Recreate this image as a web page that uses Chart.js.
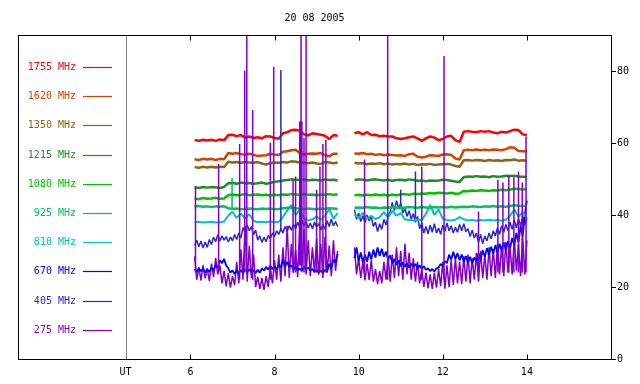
<!DOCTYPE html>
<html>
<head>
<meta charset="utf-8">
<title>20 08 2005</title>
<script src="https://cdn.jsdelivr.net/npm/chart.js@4.4.0/dist/chart.umd.min.js"></script>
<style>
  html, body { margin: 0; padding: 0; background: #fff; }
  #chart { display: block; }
</style>
</head>
<body>
<canvas id="chart" width="640" height="384"></canvas>
<script>
// time axis (UT hours); the recording has a gap between the two blocks
const titleText = '20 08 2005';
const utHour = 4.457;
const gapHour = 9.7;
const xMin = 1.9, xMax = 16;
const xTicks = [utHour, 6, 8, 10, 12, 14];
const yTicks = [0, 20, 40, 60, 80];

const hoursA = [6.1, 6.2, 6.3, 6.4, 6.5, 6.6, 6.7, 6.8, 6.9, 7.0, 7.1, 7.2, 7.3, 7.4, 7.5, 7.6, 7.7, 7.8, 7.9, 8.0,
  8.1, 8.2, 8.3, 8.4, 8.5, 8.6, 8.7, 8.8, 8.9, 9.0, 9.1, 9.2, 9.3, 9.4, 9.5];
const hoursB = [9.9, 10.0, 10.1, 10.2, 10.3, 10.4, 10.5, 10.6, 10.7, 10.8, 10.9, 11.0, 11.1, 11.2, 11.3, 11.4, 11.5,
  11.6, 11.7, 11.8, 11.9, 12.0, 12.1, 12.2, 12.3, 12.4, 12.5, 12.6, 12.7, 12.8, 12.9, 13.0, 13.1, 13.2, 13.3, 13.4,
  13.5, 13.6, 13.7, 13.8, 13.9, 14.0];
const fineA = [6.10, 6.15, 6.20, 6.25, 6.30, 6.35, 6.40, 6.45, 6.50, 6.55, 6.60, 6.65, 6.70, 6.75, 6.80, 6.85, 6.90,
  6.95, 7.00, 7.05, 7.10, 7.15, 7.20, 7.25, 7.30, 7.35, 7.40, 7.45, 7.50, 7.55, 7.60, 7.65, 7.70, 7.75, 7.80, 7.85,
  7.90, 7.95, 8.00, 8.05, 8.10, 8.15, 8.20, 8.25, 8.30, 8.35, 8.40, 8.45, 8.50, 8.55, 8.60, 8.65, 8.70, 8.75, 8.80,
  8.85, 8.90, 8.95, 9.00, 9.05, 9.10, 9.15, 9.20, 9.25, 9.30, 9.35, 9.40, 9.45, 9.50];
const fineB = [9.90, 9.95, 10.00, 10.05, 10.10, 10.15, 10.20, 10.25, 10.30, 10.35, 10.40, 10.45, 10.50, 10.55, 10.60,
  10.65, 10.70, 10.75, 10.80, 10.85, 10.90, 10.95, 11.00, 11.05, 11.10, 11.15, 11.20, 11.25, 11.30, 11.35, 11.40,
  11.45, 11.50, 11.55, 11.60, 11.65, 11.70, 11.75, 11.80, 11.85, 11.90, 11.95, 12.00, 12.05, 12.10, 12.15, 12.20,
  12.25, 12.30, 12.35, 12.40, 12.45, 12.50, 12.55, 12.60, 12.65, 12.70, 12.75, 12.80, 12.85, 12.90, 12.95, 13.00,
  13.05, 13.10, 13.15, 13.20, 13.25, 13.30, 13.35, 13.40, 13.45, 13.50, 13.55, 13.60, 13.65, 13.70, 13.75, 13.80,
  13.85, 13.90, 13.95, 14.00];

// 1755 MHz
const f1755A = [60.8, 60.6, 60.9, 60.7, 60.9, 60.6, 61.0, 60.8, 62.2, 62.3, 61.9, 62.2, 61.5, 61.8, 61.4, 61.6, 61.3,
  61.9, 61.8, 61.4, 61.2, 62.7, 63.0, 63.6, 63.7, 63.4, 62.4, 62.1, 62.7, 62.5, 62.3, 62.0, 61.1, 62.2, 62.0];
const f1755B = [62.7, 63.0, 62.4, 63.0, 62.2, 62.3, 61.9, 62.0, 61.8, 61.8, 61.3, 61.1, 61.3, 61.6, 61.8, 61.3, 60.6,
  61.3, 61.8, 61.5, 60.8, 61.1, 61.8, 62.0, 60.8, 60.3, 63.1, 63.3, 63.1, 63.0, 63.3, 63.1, 63.3, 62.9, 62.7, 63.1,
  62.9, 63.3, 63.7, 63.6, 62.4, 62.2];
// 1620 MHz
const f1620A = [55.5, 55.3, 55.6, 55.4, 55.6, 55.3, 55.6, 55.5, 57.2, 57.0, 57.2, 56.9, 56.8, 57.0, 56.7, 56.4, 56.5,
  56.6, 57.0, 56.8, 56.7, 57.6, 57.7, 58.0, 58.1, 57.2, 56.8, 57.0, 57.1, 57.0, 57.2, 56.6, 56.3, 57.0, 57.0];
const f1620B = [57.1, 57.0, 57.2, 56.9, 57.0, 56.7, 56.9, 56.6, 56.8, 56.7, 56.5, 56.6, 56.4, 56.9, 57.0, 56.2, 56.0,
  56.2, 56.6, 56.5, 56.4, 56.8, 56.9, 56.7, 55.7, 55.4, 58.0, 58.1, 58.0, 58.2, 58.0, 58.1, 58.0, 58.2, 58.1, 58.0,
  58.3, 58.8, 58.7, 57.8, 57.7, 57.7];
// 1350 MHz
const f1350A = [53.3, 53.1, 53.4, 53.2, 53.4, 53.2, 53.4, 53.3, 54.8, 54.6, 54.7, 54.5, 54.7, 54.6, 54.5, 54.7, 54.3,
  54.0, 54.4, 54.6, 54.5, 54.7, 54.6, 54.9, 54.8, 54.6, 54.5, 54.4, 54.6, 54.3, 54.2, 54.7, 54.6, 54.4, 54.6];
const f1350B = [54.5, 54.3, 54.4, 54.1, 54.3, 54.2, 54.4, 54.1, 54.3, 54.0, 54.2, 54.1, 54.3, 54.0, 54.2, 53.9, 54.1,
  54.0, 54.2, 53.9, 54.0, 54.1, 54.2, 54.0, 53.6, 53.4, 55.2, 55.3, 55.1, 55.3, 55.2, 55.0, 55.3, 55.1, 55.2, 55.0,
  55.3, 55.2, 55.4, 55.1, 55.2, 55.0];
// 1215 MHz
const f1215A = [47.7, 47.5, 47.8, 47.6, 47.8, 47.7, 47.5, 47.8, 48.8, 48.9, 48.7, 49.0, 48.8, 48.9, 48.7, 48.8, 49.0,
  48.7, 48.9, 49.2, 49.4, 49.6, 49.7, 49.9, 49.8, 49.7, 49.9, 49.6, 49.8, 49.7, 49.6, 49.9, 49.7, 49.8, 49.6];
const f1215B = [49.7, 49.9, 49.8, 49.6, 49.8, 49.9, 49.7, 49.6, 49.8, 49.5, 49.7, 49.8, 49.6, 49.9, 49.7, 49.5, 49.6,
  49.4, 49.6, 49.5, 49.6, 49.8, 49.7, 49.5, 49.3, 49.2, 50.5, 50.7, 50.6, 50.8, 50.6, 50.7, 50.5, 50.8, 50.6, 50.7,
  50.9, 50.8, 50.9, 50.7, 50.6, 50.6];
// 1080 MHz
const f1080A = [44.6, 44.4, 44.7, 44.5, 44.6, 44.8, 44.5, 44.6, 45.5, 45.7, 45.5, 45.6, 45.8, 45.5, 45.6, 45.7, 45.5,
  45.6, 45.4, 45.6, 45.5, 45.7, 45.6, 45.8, 45.7, 45.6, 45.8, 45.6, 45.7, 45.5, 45.7, 45.6, 45.8, 45.6, 45.7];
const f1080B = [45.5, 45.6, 45.4, 45.6, 45.5, 45.7, 45.5, 45.6, 45.4, 45.6, 45.5, 45.7, 45.8, 45.6, 45.9, 45.8, 46.0,
  45.9, 46.1, 46.0, 46.2, 46.1, 46.0, 46.2, 45.9, 46.0, 46.7, 46.6, 46.8, 46.7, 46.9, 46.8, 46.7, 46.9, 46.8, 47.0,
  46.9, 47.1, 47.3, 47.2, 47.1, 47.2];
// 925 MHz
const f925A = [42.4, 42.5, 42.3, 42.4, 42.2, 42.4, 42.3, 42.4, 41.9, 41.7, 41.8, 41.6, 41.7, 41.8, 41.7, 41.6, 41.8,
  41.7, 41.8, 41.6, 41.7, 41.9, 42.0, 42.1, 41.9, 41.8, 41.7, 41.8, 41.7, 41.6, 41.8, 41.7, 41.9, 41.8, 41.7];
const f925B = [42.0, 42.1, 42.0, 42.2, 42.0, 42.1, 41.9, 42.1, 42.0, 42.2, 42.0, 42.1, 42.0, 42.2, 42.1, 42.0, 42.2,
  42.1, 42.0, 42.2, 42.1, 42.2, 42.1, 42.3, 42.1, 42.2, 42.3, 42.2, 42.4, 42.3, 42.2, 42.4, 42.3, 42.5, 42.3, 42.4,
  42.3, 42.5, 42.7, 42.6, 42.5, 42.6];
// 810 MHz
const f810A = [38.0, 38.1, 37.9, 38.0, 38.1, 37.9, 38.0, 38.2, 39.8, 40.9, 39.2, 40.4, 39.0, 40.2, 38.4, 38.0, 38.1,
  38.0, 38.2, 38.0, 38.1, 39.5, 41.2, 42.8, 40.0, 41.5, 39.0, 38.5, 38.8, 39.6, 38.7, 39.8, 41.6, 39.0, 40.5];
const f810B = [40.0, 39.2, 40.6, 39.0, 39.8, 38.9, 39.4, 40.8, 39.3, 41.2, 39.8, 40.5, 38.8, 38.6, 38.5, 38.7, 38.6,
  40.3, 42.8, 40.0, 41.5, 39.0, 38.6, 38.5, 38.7, 39.4, 38.8, 38.5, 38.6, 38.4, 38.6, 38.5, 38.7, 38.5, 38.6, 38.4,
  38.7, 39.8, 41.5, 39.5, 40.8, 39.0];
// 670 MHz (fine sampling)
const f670A = [25.0, 24.2, 25.2, 24.4, 25.0, 24.0, 24.9, 24.2, 25.3, 24.6, 26.0, 25.4, 27.4, 26.6, 27.8, 26.0, 25.2,
  24.0, 24.6, 23.6, 24.5, 23.8, 24.7, 24.0, 25.0, 24.2, 24.9, 24.1, 24.6, 23.9, 24.8, 24.0, 25.2, 24.6, 25.6, 24.8,
  26.0, 25.0, 25.8, 24.9, 26.2, 25.4, 27.6, 25.8, 27.0, 25.6, 26.0, 24.8, 25.6, 24.6, 25.2, 24.4, 25.6, 24.8, 25.4,
  24.6, 25.0, 24.2, 24.8, 24.0, 24.6, 23.9, 24.8, 24.2, 26.4, 25.2, 27.6, 26.8, 29.2];
const f670B = [28.0, 31.0, 27.2, 29.6, 26.8, 29.0, 27.0, 29.8, 27.6, 30.4, 28.2, 31.0, 28.6, 30.6, 28.4, 29.8, 27.6,
  28.8, 26.6, 27.8, 26.2, 27.4, 25.8, 26.8, 25.6, 26.6, 25.4, 26.5, 25.6, 26.4, 25.2, 26.0, 25.0, 25.8, 24.8, 25.2,
  24.4, 25.0, 24.3, 25.2, 25.4, 26.4, 25.8, 27.2, 26.6, 29.0, 27.6, 29.8, 27.8, 29.4, 27.4, 29.0, 27.0, 28.6, 26.8,
  28.4, 26.6, 28.2, 27.0, 29.4, 27.6, 30.2, 28.4, 30.8, 29.0, 31.2, 29.4, 31.6, 29.6, 32.0, 30.0, 32.4, 30.2, 32.8,
  30.8, 33.6, 31.6, 35.0, 32.4, 37.0, 34.0, 40.0, 44.0];
// 405 MHz (fine sampling)
const f405A = [31.5, 33.0, 31.2, 32.8, 30.8, 32.5, 31.0, 33.2, 31.8, 33.8, 32.6, 34.5, 32.8, 34.2, 33.0, 34.0, 32.5,
  33.9, 32.8, 34.6, 33.2, 35.0, 33.6, 36.5, 35.2, 37.2, 35.6, 36.8, 34.5, 35.8, 33.0, 34.2, 32.4, 33.8, 32.6, 34.3,
  33.4, 35.0, 34.0, 35.6, 34.6, 36.2, 35.0, 36.8, 35.5, 37.0, 35.8, 37.4, 36.2, 38.0, 36.5, 38.6, 37.0, 38.2, 36.4,
  37.8, 36.2, 38.0, 36.6, 37.6, 35.8, 37.4, 36.0, 38.4, 36.8, 38.8, 37.0, 38.2, 36.8];
const f405B = [41.5, 38.8, 40.5, 38.2, 39.8, 37.8, 40.0, 38.4, 39.6, 36.8, 38.0, 35.4, 37.6, 36.0, 38.8, 37.2, 39.5,
  41.0, 43.5, 41.2, 44.0, 41.8, 43.2, 40.5, 42.0, 39.6, 41.2, 38.8, 40.4, 38.0, 39.6, 36.2, 37.8, 35.0, 36.8, 34.8,
  37.2, 35.2, 37.6, 35.0, 36.4, 34.6, 37.2, 35.4, 37.8, 35.6, 37.0, 35.0, 36.6, 35.2, 37.4, 35.6, 37.6, 35.4, 36.2,
  34.0, 35.8, 33.6, 35.0, 32.4, 34.6, 32.0, 34.2, 32.8, 35.0, 33.4, 35.6, 34.2, 36.4, 34.6, 37.0, 35.2, 37.4, 35.6,
  38.0, 36.0, 38.6, 36.4, 39.0, 37.0, 39.6, 37.4, 39.0];
// 275 MHz (fine sampling)
const f275A = [28.5, 22.0, 25.5, 21.8, 26.0, 22.4, 25.2, 21.6, 26.5, 22.8, 28.0, 23.5, 26.0, 21.0, 24.5, 20.2, 23.8,
  19.8, 23.0, 20.5, 27.0, 21.0, 30.5, 22.0, 37.0, 21.5, 31.5, 22.5, 29.0, 20.0, 22.8, 19.5, 22.5, 19.2, 23.0, 20.0,
  25.5, 21.0, 27.5, 22.0, 29.0, 21.5, 31.0, 23.0, 37.0, 22.5, 32.0, 24.0, 30.5, 22.8, 38.0, 25.0, 36.0, 23.5, 33.0,
  23.0, 31.0, 24.0, 33.5, 23.5, 32.0, 22.5, 34.0, 24.0, 31.5, 23.0, 33.0, 24.5, 30.0];
const f275B = [31.0, 23.5, 28.0, 22.5, 27.0, 21.8, 26.5, 22.0, 27.5, 21.5, 25.0, 20.8, 24.5, 21.0, 27.0, 22.0, 28.5,
  21.5, 29.0, 22.5, 31.0, 23.0, 30.0, 22.0, 32.0, 23.5, 29.5, 22.0, 28.0, 21.5, 27.0, 21.0, 25.0, 20.0, 24.0, 19.6,
  23.5, 19.5, 24.0, 19.8, 25.0, 20.2, 27.0, 19.5, 26.0, 20.0, 27.5, 20.5, 28.0, 21.0, 27.0, 20.8, 28.5, 21.5, 29.0,
  21.0, 28.0, 22.0, 29.5, 21.5, 30.0, 22.5, 29.0, 22.0, 31.0, 23.0, 30.5, 22.5, 32.0, 23.5, 31.5, 23.0, 32.5, 24.0,
  31.0, 23.5, 33.5, 24.5, 32.0, 23.0, 34.0, 23.5, 33.0];

// short bursts (vertical spikes)
const spike275Hours = [6.12, 6.67, 7.17, 7.29, 7.34, 7.48, 7.90, 7.98, 8.44, 8.50, 8.60, 8.62, 8.63, 8.65, 8.70, 8.75,
  9.00, 9.08, 9.15, 9.22, 10.14, 10.69, 11.50, 12.03, 12.85, 13.31, 13.43, 13.57, 13.69, 13.80, 13.89, 13.98];
const spike275Tops = [48.0, 54.2, 59.7, 80.1, 90, 69.2, 60.1, 81.2, 49.7, 50.7, 66.0, 66.0, 90, 66.0, 61.4, 90,
  47.0, 53.4, 59.7, 60.8, 55.4, 90, 53.5, 84.2, 41.0, 49.8, 49.0, 51.0, 50.5, 52.0, 49.0, 61.8];
const spike275Bases = [24, 24, 22, 24, 24, 22, 22, 24, 24, 24, 26, 26, 26, 26, 24, 24,
  24, 24, 24, 24, 24, 22, 22, 22, 24, 24, 24, 24, 24, 24, 24, 24];
const spike405Hours = [8.15, 11.00, 11.35];
const spike405Tops = [80.3, 47.0, 52.1];
const spike405Bases = [35.5, 43.0, 39.0];
const spike925Hours = [6.99];
const spike925Tops = [50.3];
const spike925Bases = [41.8];

const labels = ['1755 MHz', '1620 MHz', '1350 MHz', '1215 MHz', '1080 MHz', '925 MHz', '810 MHz', '670 MHz', '405 MHz', '275 MHz'];
const colors = ['#ff0000', '#cc4400', '#8c6410', '#228b22', '#00c000', '#00c060', '#00c0c0', '#0000ff', '#2828c8', '#8000c8'];

const monoFont = { family: "'DejaVu Sans Mono', monospace", size: 10 };

function series(xa, ya, xb, yb) {
    const pts = xa.map((x, i) => ({ x: x, y: ya[i] }));
    pts.push({ x: gapHour, y: null });
    return pts.concat(xb.map((x, i) => ({ x: x, y: yb[i] })));
}

function spikes(hours, bases, tops) {
    const pts = [];
    hours.forEach((h, i) => {
        pts.push({ x: h, y: bases[i] }, { x: h, y: tops[i] }, { x: h, y: null });
    });
    return pts;
}

function line(data, color, width) {
    return { data: data, borderColor: color, borderWidth: width, borderJoinStyle: 'bevel', fill: false, spanGaps: false };
}

// first dataset is drawn on top
const datasets = [
    line(spikes(spike275Hours, spike275Bases, spike275Tops), colors[9], 1.5),
    line(spikes(spike405Hours, spike405Bases, spike405Tops), colors[8], 1.5),
    line(spikes(spike925Hours, spike925Bases, spike925Tops), colors[5], 1.5),
    line(series(hoursA, f1755A, hoursB, f1755B), colors[0], 2.5),
    line(series(hoursA, f1620A, hoursB, f1620B), colors[1], 2.5),
    line(series(hoursA, f1350A, hoursB, f1350B), colors[2], 2.5),
    line(series(hoursA, f1215A, hoursB, f1215B), colors[3], 2.5),
    line(series(hoursA, f1080A, hoursB, f1080B), colors[4], 2.5),
    line(series(hoursA, f925A, hoursB, f925B), colors[5], 2.5),
    line(series(hoursA, f810A, hoursB, f810B), colors[6], 2),
    line(series(fineA, f670A, fineB, f670B), colors[7], 1.8),
    line(series(fineA, f275A, fineB, f275B), colors[9], 1.5),
    line(series(fineA, f405A, fineB, f405B), colors[8], 1.5)
];

// frame, UT line, inward ticks, title and the frequency key
const decorPlugin = {
    id: 'decor',
    beforeDatasetsDraw(chart) {
        const c = chart.ctx, a = chart.chartArea;
        const ux = Math.round(chart.scales.x.getPixelForValue(utHour)) + 0.5;
        c.save();
        c.strokeStyle = '#808080';
        c.lineWidth = 1;
        c.beginPath();
        c.moveTo(ux, a.top);
        c.lineTo(ux, a.bottom);
        c.stroke();
        c.restore();
    },
    afterDraw(chart) {
        const c = chart.ctx, a = chart.chartArea, xs = chart.scales.x;
        const L = Math.round(a.left) + 0.5, R = Math.round(a.right) + 0.5;
        const T = Math.round(a.top) + 0.5, B = Math.round(a.bottom) + 0.5;
        c.save();
        c.strokeStyle = '#000';
        c.lineWidth = 1;
        c.strokeRect(L, T, R - L, B - T);
        c.beginPath();
        xTicks.forEach(v => {
            if (v === utHour) return;
            const px = Math.round(xs.getPixelForValue(v)) + 0.5;
            c.moveTo(px, B);
            c.lineTo(px, B - 5);
            c.moveTo(px, T);
            c.lineTo(px, T + 5);
        });
        c.stroke();

        c.font = "10px 'DejaVu Sans Mono', monospace";
        c.textBaseline = 'middle';
        c.fillStyle = '#000';
        c.textAlign = 'center';
        c.fillText(titleText, (a.left + a.right) / 2, 18);

        labels.forEach((lab, i) => {
            const y = a.top + 32 + i * 29.2;
            c.fillStyle = colors[i];
            c.textAlign = 'right';
            c.fillText(lab, a.left + 58, y + 0.5);
            c.strokeStyle = colors[i];
            c.lineWidth = 1.2;
            c.beginPath();
            c.moveTo(a.left + 65, Math.round(y) + 0.5);
            c.lineTo(a.left + 94, Math.round(y) + 0.5);
            c.stroke();
        });
        c.restore();
    }
};

new Chart(document.getElementById('chart').getContext('2d'), {
    type: 'line',
    data: { datasets: datasets },
    options: {
        responsive: false,
        animation: false,
        events: [],
        layout: { padding: { left: 18, top: 35, right: 0, bottom: 0 } },
        elements: { point: { radius: 0 }, line: { tension: 0 } },
        plugins: {
            legend: { display: false },
            title: { display: false },
            tooltip: { enabled: false }
        },
        scales: {
            x: {
                type: 'linear',
                position: 'bottom',
                min: xMin,
                max: xMax,
                afterBuildTicks: s => { s.ticks = xTicks.map(v => ({ value: v })); },
                afterFit: s => { s.height = 25; },
                grid: { display: false, drawTicks: false },
                border: { display: false },
                ticks: {
                    padding: 7,
                    maxRotation: 0,
                    autoSkip: false,
                    color: '#000',
                    font: monoFont,
                    callback: v => (v === utHour ? 'UT' : String(v))
                }
            },
            y: {
                position: 'right',
                min: 0,
                max: 90,
                afterBuildTicks: s => { s.ticks = yTicks.map(v => ({ value: v })); },
                afterFit: s => { s.width = 29; },
                grid: { drawOnChartArea: false, tickLength: 5, color: '#000' },
                border: { display: false },
                ticks: { padding: 1, color: '#000', font: monoFont }
            }
        }
    },
    plugins: [decorPlugin]
});
</script>
</body>
</html>
